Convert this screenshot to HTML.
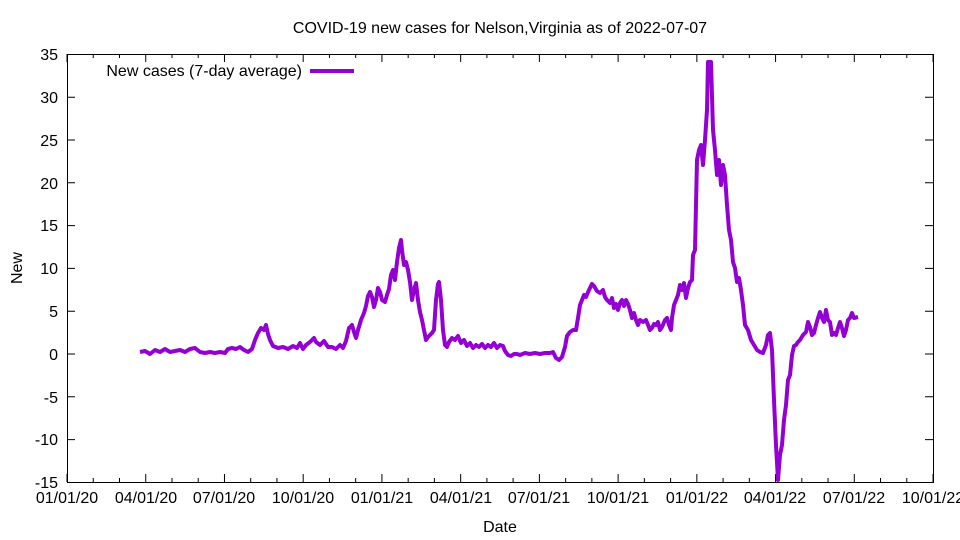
<!DOCTYPE html>
<html><head><style>body{margin:0;background:#fff}svg{display:block}text{font-family:"Liberation Sans",sans-serif;font-size:16px;fill:#000}</style></head><body>
<svg width="960" height="540" xmlns="http://www.w3.org/2000/svg">
<text x="500" y="33" text-anchor="middle">COVID-19 new cases for Nelson,Virginia as of 2022-07-07</text>
<g stroke="#000" stroke-width="1" fill="none">
<rect x="67.5" y="54.5" width="866" height="428"/>
<path d="M67,97.2h8M933,97.2h-8M67,140h8M933,140h-8M67,182.8h8M933,182.8h-8M67,225.6h8M933,225.6h-8M67,268.4h8M933,268.4h-8M67,311.2h8M933,311.2h-8M67,354h8M933,354h-8M67,396.8h8M933,396.8h-8M67,439.6h8M933,439.6h-8"/>
</g>
<g id="ticks" stroke="#000" stroke-width="1"></g>
<g text-anchor="end">
<text x="58" y="60">35</text><text x="58" y="103">30</text><text x="58" y="146">25</text><text x="58" y="189">20</text><text x="58" y="231">15</text><text x="58" y="274">10</text><text x="58" y="317">5</text><text x="58" y="360">0</text><text x="58" y="403">-5</text><text x="58" y="445">-10</text><text x="58" y="488">-15</text>
</g>
<g text-anchor="middle">
<text x="67" y="503">01/01/20</text><text x="146" y="503">04/01/20</text><text x="224" y="503">07/01/20</text><text x="303" y="503">10/01/20</text><text x="382" y="503">01/01/21</text><text x="461" y="503">04/01/21</text><text x="539" y="503">07/01/21</text><text x="618" y="503">10/01/21</text><text x="697" y="503">01/01/22</text><text x="775" y="503">04/01/22</text><text x="854" y="503">07/01/22</text><text x="933" y="503">10/01/22</text>
<text x="500" y="532">Date</text>
<text x="22" y="268" transform="rotate(-90 22 268)">New</text>
</g>
<text x="302" y="76" text-anchor="end">New cases (7-day average)</text>
<line x1="310" y1="71" x2="354" y2="71" stroke="#9400d3" stroke-width="4"/>
<polyline fill="none" stroke="#9400d3" stroke-width="4" stroke-linejoin="round" points="140,352 145,351 150,354 155,350 160,352 165,349 170,352 175,351 180,350 185,352 190,349 195,348 200,352 205,353 210,352 215,353 220,352 225,353 228,349 232,348 236,349 240,347 244,350 248,352 252,349 255,340 258,333 261,328 264,330 266,325 268,334 270,340 273,346 278,348 283,347 288,349 293,346 297,348 300,343 303,349 306,345 310,342 314,338 316,342 320,345 324,341 328,347 332,347 336,349 340,345 343,348 346,341 349,328 352,325 354,332 356,338 358,330 361,320 364,313 366,306 368,296 370,292 372,297 374,307 376,300 378,288 380,292 382,300 385,302 387,295 389,289 391,275 393,270 395,280 397,262 399,248 401,240 402,250 404,265 406,262 408,270 410,282 412,300 414,290 416,283 418,300 420,312 422,320 424,330 426,340 428,337 430,335 432,333 434,330 436,300 438,284 439,282 441,300 443,330 445,345 447,347 449,342 452,338 455,340 458,336 461,343 464,340 467,346 470,343 473,348 476,345 479,347 482,344 485,348 488,345 491,347 494,343 497,348 500,345 503,346 505,351 508,355 511,356 514,354 517,354 520,355 525,353 530,354 535,353 540,354 545,353 550,353 553,352 556,358 559,360 562,357 565,347 567,336 570,332 573,330 576,330 578,318 580,305 582,300 584,295 586,297 589,290 592,284 594,286 597,291 600,293 603,290 605,297 607,300 610,303 612,298 614,308 616,304 618,310 620,303 622,300 624,306 626,300 628,304 630,310 632,318 634,313 636,320 638,325 640,320 643,322 646,320 648,325 650,330 652,328 654,324 656,325 658,322 660,330 662,327 665,320 667,318 669,325 671,330 672,318 674,305 676,300 678,295 680,285 682,290 684,283 686,298 688,288 690,282 692,280 693,255 695,250 697,160 699,150 701,145 703,165 705,140 707,110 708,62 711,62 713,130 715,150 717,175 719,160 721,185 723,165 725,175 727,205 729,230 731,240 733,262 735,268 737,282 739,278 741,290 743,305 745,325 748,330 751,340 754,345 757,350 760,352 763,353 766,345 768,335 770,333 772,350 774,400 776,445 778,480 780,455 782,445 784,420 786,405 788,380 790,375 792,355 794,346 796,345 798,342 800,340 803,335 806,332 808,322 810,327 812,335 814,333 816,325 818,318 820,312 822,318 824,322 826,310 828,320 830,322 832,335 834,333 836,335 838,328 840,322 842,328 844,336 846,330 848,320 850,318 852,313 854,318 858,317"/>
</svg>
<script>
var g=document.getElementById('ticks'),s='';
for(var i=0;i<=33;i++){var x=67+i*78.73/3,l=(i%3==0)?8:4;s+='<line x1="'+x+'" y1="482" x2="'+x+'" y2="'+(482-l)+'"/><line x1="'+x+'" y1="54" x2="'+x+'" y2="'+(54+l)+'"/>';}
g.innerHTML=s;
</script>
</body></html>
